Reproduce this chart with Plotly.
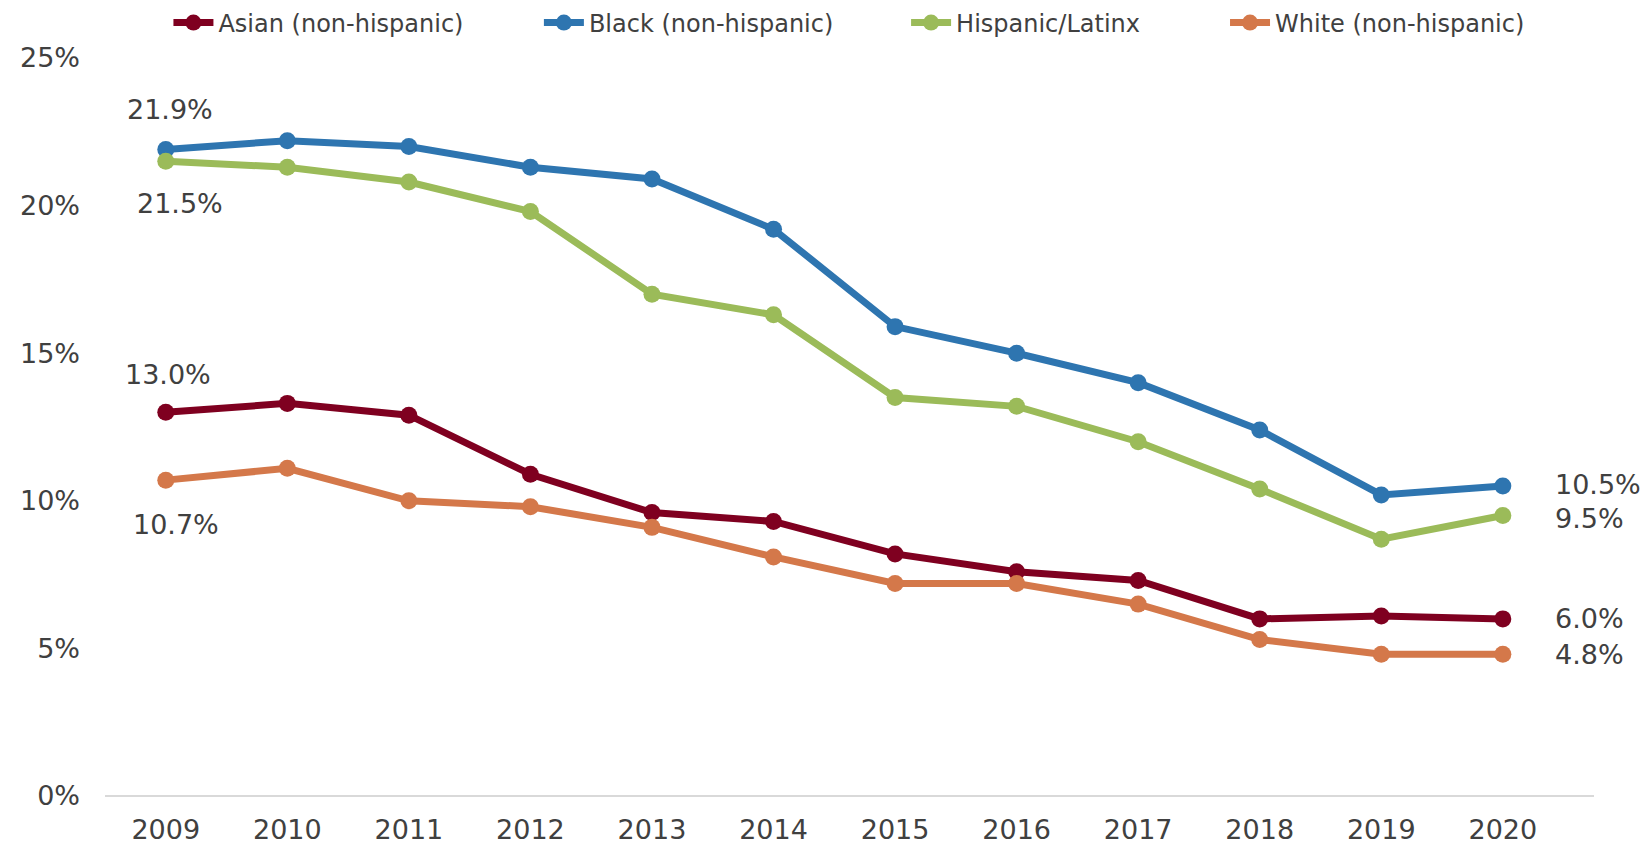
import plotly.graph_objects as go

years = [2009, 2010, 2011, 2012, 2013, 2014, 2015, 2016, 2017, 2018, 2019, 2020]
asian = [13.0, 13.3, 12.9, 10.9, 9.6, 9.3, 8.2, 7.6, 7.3, 6.0, 6.1, 6.0]
black = [21.9, 22.2, 22.0, 21.3, 20.9, 19.2, 15.9, 15.0, 14.0, 12.4, 10.2, 10.5]
hispanic = [21.5, 21.3, 20.8, 19.8, 17.0, 16.3, 13.5, 13.2, 12.0, 10.4, 8.7, 9.5]
white = [10.7, 11.1, 10.0, 9.8, 9.1, 8.1, 7.2, 7.2, 6.5, 5.3, 4.8, 4.8]

names = ["Asian (non-hispanic)", "Black (non-hispanic)", "Hispanic/Latinx", "White (non-hispanic)"]
colors = ["#7F0020", "#2E75B0", "#9BBB59", "#D4784A"]
series = [asian, black, hispanic, white]

y_ticks = [0, 5, 10, 15, 20, 25]
y_ticktext = ["0%", "5%", "10%", "15%", "20%", "25%"]

FONT = "DejaVu Sans"
TXT = "#404040"

legend_ids = ["legend", "legend2", "legend3", "legend4"]
legend_x = [0.0426, 0.2914, 0.5380, 0.7522]

fig = go.Figure()
for name, col, vals, lid in zip(names, colors, series, legend_ids):
    fig.add_trace(go.Scatter(
        x=years, y=vals, name=name, mode="lines+markers",
        line=dict(color=col, width=7),
        marker=dict(color=col, size=17),
        legend=lid,
    ))

# start / end labels (offsets only)
start_shift = {"Asian (non-hispanic)": (2, 38), "Black (non-hispanic)": (4, 40),
               "Hispanic/Latinx": (14, -42), "White (non-hispanic)": (10, -44)}
end_shift = {"Asian (non-hispanic)": 0, "Black (non-hispanic)": 2,
             "Hispanic/Latinx": -3, "White (non-hispanic)": 0}
for name, vals in zip(names, series):
    xs, ys = start_shift[name]
    fig.add_annotation(x=years[0], y=vals[0], text=f"{vals[0]:.1f}%",
                       showarrow=False, yshift=ys, xshift=xs,
                       font=dict(family=FONT, size=27, color=TXT))
    fig.add_annotation(x=years[-1], y=vals[-1], text=f"{vals[-1]:.1f}%",
                       showarrow=False, xanchor="left", xshift=50,
                       yshift=end_shift[name],
                       font=dict(family=FONT, size=27, color=TXT))

legend_style = dict(orientation="h", xanchor="left", yref="container", y=1 - 23 / 845,
                    yanchor="middle", font=dict(family=FONT, size=24, color=TXT),
                    itemwidth=40, bgcolor="rgba(0,0,0,0)")

fig.update_layout(
    width=1642, height=845,
    margin=dict(l=105, r=48, t=58, b=49, autoexpand=False),
    paper_bgcolor="white", plot_bgcolor="white",
    font=dict(family=FONT, size=27, color=TXT),
    showlegend=True,
    legend=dict(x=legend_x[0], **legend_style),
    legend2=dict(x=legend_x[1], **legend_style),
    legend3=dict(x=legend_x[2], **legend_style),
    legend4=dict(x=legend_x[3], **legend_style),
    xaxis=dict(range=[2008.5, 2020.75], tickmode="array", tickvals=years,
               ticktext=[str(y) for y in years], showgrid=False, zeroline=False,
               showline=False, ticks="", ticklabelstandoff=15, automargin=False,
               tickfont=dict(family=FONT, size=27, color=TXT)),
    yaxis=dict(range=[0, 25], tickmode="array", tickvals=y_ticks, ticktext=y_ticktext,
               showgrid=False, zeroline=True, zerolinecolor="#D9D9D9", zerolinewidth=2,
               showline=False, ticks="", ticklabelstandoff=24, automargin=False,
               tickfont=dict(family=FONT, size=27, color=TXT)),
)

fig.write_html("out.html", config={"displayModeBar": False},
               post_script="document.body.style.margin='0';document.body.style.overflow='hidden';")
